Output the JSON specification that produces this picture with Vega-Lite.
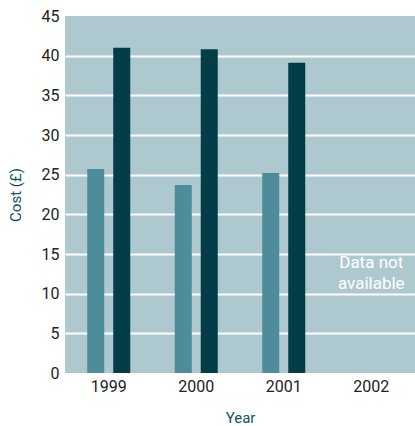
{
  "$schema": "https://vega.github.io/schema/vega-lite/v6.json",
  "width": 350,
  "height": 357,
  "autosize": {"type": "none"},
  "padding": {"left": 65, "top": 16, "right": 0, "bottom": 53},
  "background": "white",
  "config": {
    "view": {"fill": "#adc9cf", "stroke": null},
    "font": "Roboto"
  },
  "encoding": {
    "x": {
      "field": "year", "type": "nominal",
      "scale": {"domain": ["1999", "2000", "2001", "2002"], "paddingInner": 0, "paddingOuter": 0},
      "axis": {"title": "Year", "labelAngle": 0, "labelFontSize": 16, "labelColor": "#222222", "labelPadding": 5, "ticks": false, "domain": false, "titleFontSize": 15, "titleColor": "#0f5560", "titleFontWeight": "normal", "titlePadding": 16}
    },
    "y": {
      "field": "cost", "type": "quantitative",
      "scale": {"domain": [0, 45], "nice": false},
      "axis": {"title": "Cost (£)", "values": [0,5,10,15,20,25,30,35,40,45], "labelFontSize": 16, "labelColor": "#222222", "labelPadding": 6, "labelOverlap": false, "ticks": false, "domain": false, "grid": true, "gridColor": "white", "gridWidth": 2, "gridOpacity": {"condition": {"test": "datum.value == 0 || datum.value == 45", "value": 0}, "value": 1}, "titleFontSize": 15, "titleColor": "#0f5560", "titleFontWeight": "normal", "titlePadding": 18}
    }
  },
  "layer": [
    {
      "data": {
        "values": [
          {"year": "1999", "series": "A", "cost": 25.7},
          {"year": "1999", "series": "B", "cost": 41.0},
          {"year": "2000", "series": "A", "cost": 23.7},
          {"year": "2000", "series": "B", "cost": 40.8},
          {"year": "2001", "series": "A", "cost": 25.2},
          {"year": "2001", "series": "B", "cost": 39.1}
        ]
      },
      "mark": {"type": "bar"},
      "encoding": {
        "xOffset": {
          "field": "series", "type": "nominal",
          "scale": {"paddingInner": 0.346, "paddingOuter": 0.855}
        },
        "color": {
          "field": "series", "type": "nominal",
          "scale": {"domain": ["A", "B"], "range": ["#4e8c99", "#033d48"]},
          "legend": null
        }
      }
    },
    {
      "data": {"values": [{"year": "2002", "cost": 13.9, "note": "Data not\navailable"}]},
      "mark": {"type": "text", "color": "white", "fontSize": 17, "lineBreak": "\n", "lineHeight": 21, "align": "center", "baseline": "middle"},
      "encoding": {
        "text": {"field": "note"}
      }
    }
  ]
}
